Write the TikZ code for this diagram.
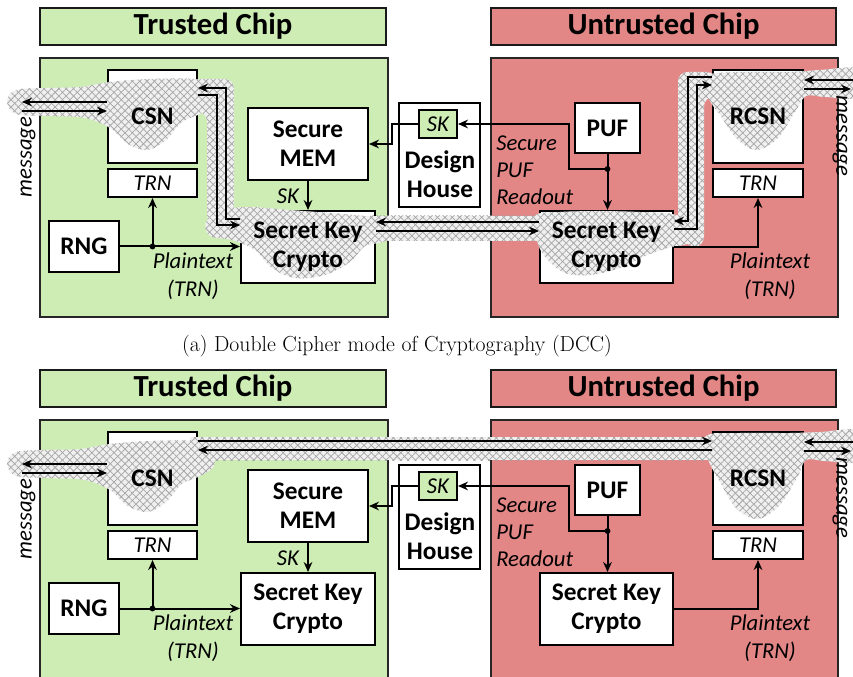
\documentclass[tikz,border=0pt]{standalone}
\usepackage{fontspec}
\newfontfamily\carl{Carlito}
\usetikzlibrary{arrows.meta,calc,patterns.meta}
\definecolor{trustfill}{RGB}{205,237,180}
\definecolor{untrustfill}{RGB}{226,134,134}
\definecolor{blobbg}{RGB}{240,240,240}
\definecolor{blobln}{RGB}{165,165,165}

\tikzset{
  panel/.style={draw=black!85, line width=1pt, inner sep=0pt, outer sep=0pt},
  ttl/.style={draw=black!90, line width=1.5pt, inner sep=0pt,
    font=\carl\bfseries\fontsize{23}{27}\selectfont},
  box/.style={draw, fill=white, line width=1.5pt, inner sep=0pt, align=center},
  sz/.style 2 args={minimum width=#1*0.75pt, minimum height=#2*0.75pt},
  bld/.style={font=\carl\bfseries\fontsize{19}{21.75}\selectfont, align=center, inner sep=0pt},
  itl/.style={font=\carl\itshape\fontsize{17}{21}\selectfont, align=center, inner sep=0pt},
  ln/.style={line width=1.5pt},
  arr/.style={line width=1.5pt, -{Stealth[length=7.5pt,width=6.5pt]}},
  blob/.style={fill=blobbg,
    postaction={pattern={Lines[angle=45,distance=3.9pt,line width=0.55pt]}, pattern color=blobln},
    postaction={pattern={Lines[angle=-45,distance=3.9pt,line width=0.55pt]}, pattern color=blobln}},
}

% chips, title bars and the boxes of one panel (prefix #1)
\newcommand\chipboxes[1]{%
  \node[panel, fill=trustfill, sz={348}{259}] (#1trust) at (214,187.5) {};
  \node[panel, fill=untrustfill, sz={347}{259}] (#1untrust) at (664.5,187.5) {};
  \node[ttl, fill=trustfill, sz={346}{37}] (#1trusthead) at (213,26.5) {Trusted Chip};
  \node[ttl, fill=untrustfill, sz={345}{37}] (#1untrusthead) at (663.5,26.5) {Untrusted Chip};
  \node[box, sz={89}{93}] (#1csn) at (152.5,116.5) {};
  \node[box, itl, sz={89}{28}] (#1trnL) at (152.5,183) {TRN};
  \node[box, bld, sz={70}{51}] (#1rng) at (84,246.5) {RNG};
  \node[box, bld, sz={120}{72}] (#1mem) at (308,144) {Secure\\MEM};
  \node[box, sz={134}{72}] (#1skcL) at (308,247) {};
  \node[box, sz={81}{104}] (#1dh) at (439.5,155) {};
  \node[box, itl, fill=trustfill, sz={38}{28}] (#1sk) at (438,124) {SK};
  \node[box, bld, sz={65}{50}] (#1puf) at (607.5,128) {PUF};
  \node[box, sz={133}{72}] (#1skcR) at (606.5,247) {};
  \node[box, sz={90}{93}] (#1rcsn) at (758,116.5) {};
  \node[box, itl, sz={90}{28}] (#1trnR) at (758,183) {TRN};
}

% connectors shared by both panels
\newcommand\chiplinks[1]{%
  \coordinate (#1msgLout) at (22,102);
  \coordinate (#1msgLin) at (22,111);
  \coordinate (#1msgRin) at (853,80);
  \coordinate (#1msgRout) at (851,89);
  \draw[arr] (#1csn.west |- #1msgLout) -- (#1msgLout);
  \draw[arr] (#1msgLin) -- (#1csn.west |- #1msgLin);
  \draw[arr] (#1msgRin) -- (#1rcsn.east |- #1msgRin);
  \draw[arr] (#1rcsn.east |- #1msgRout) -- (#1msgRout);
  \coordinate (#1jrng) at (#1rng.east -| #1trnL.south);
  \draw[arr] (#1rng.east) -- (#1rng.east -| #1skcL.west);
  \draw[arr] (#1jrng) -- (#1trnL.south);
  \fill (#1jrng) circle[radius=2.2pt];
  \draw[arr] (#1mem.south) -- (#1skcL.north);
  \draw[arr] (#1sk.west) -- ++(-26,0) |- (#1mem.east);
  \coordinate (#1jpuf) at ($(#1puf.south)+(0,15)$);
  \draw[ln] (#1puf.south) -- (#1jpuf);
  \draw[arr] (#1jpuf) -| ($(#1sk.east)+(111,0)$) -- (#1sk.east);
  \draw[arr] (#1jpuf) -- (#1jpuf |- #1skcR.north);
  \fill (#1jpuf) circle[radius=2.2pt];
  \draw[arr] (#1skcR.east) -| (#1trnR.south);
}

% labels drawn above the shaded channel
\newcommand\chiptext[1]{%
  \node[bld] (#1csnlabel) at (#1csn) {CSN};
  \node[bld] (#1rcsnlabel) at (#1rcsn) {RCSN};
  \node[bld] (#1skcLlabel) at (#1skcL) {Secret Key\\Crypto};
  \node[bld] (#1skcRlabel) at (#1skcR) {Secret Key\\Crypto};
  \node[bld] (#1dhlabel) at (440,174) {Design\\House};
  \node[itl, align=left, anchor=west, font=\carl\itshape\fontsize{17}{20.25}\selectfont]
    (#1readout) at (496,170) {Secure\\PUF\\Readout};
  \node[itl] (#1sklabel) at (288,196) {SK};
  \node[itl] (#1ptL) at (193,276) {Plaintext\\(TRN)};
  \node[itl] (#1ptR) at (770,276) {Plaintext\\(TRN)};
  \node[itl, rotate=90] (#1msgL) at (28,157) {message};
  \node[itl, rotate=-90] (#1msgR) at (840,136) {message};
}

% shaded channel around the left message port and CSN
\newcommand\csnblob{%
  \path[blob] plot[smooth cycle, tension=0.55] coordinates {(7,101) (16,90) (45,88) (80,87)
    (110,82) (150,79) (195,79) (212,86) (214,104) (200,114) (182,122) (166,140) (148,150)
    (128,144) (110,128) (85,118) (50,116) (16,114)};
}

\begin{document}
\begin{tikzpicture}[x=0.75pt, y=-0.75pt]
\path[use as bounding box, clip] (0,0) rectangle (853,677);

% ---------- (a) double cipher mode ----------
\chipboxes{t}
\csnblob
\path[blob, rounded corners=7pt] (192,79) -- (234,79) -- (234,214) -- (207,224) -- (207,112) -- (192,112) -- cycle;
\path[blob] plot[smooth cycle, tension=0.55] coordinates {(206,222) (222,210) (250,207) (290,210)
  (330,213) (365,216) (385,219) (386,240) (365,246) (350,262) (325,275) (295,278) (272,268)
  (255,250) (232,240) (210,236)};
\path[blob] (370,216) rectangle (545,241);
\path[blob] plot[smooth cycle, tension=0.55] coordinates {(535,216) (560,212) (600,211) (640,212)
  (672,214) (690,222) (690,242) (668,248) (645,256) (620,268) (590,275) (565,273) (548,260) (538,244)};
\path[blob, rounded corners=7pt] (678,235) -- (678,72) -- (716,72) -- (716,97) -- (704,97) -- (704,246) -- (690,248) -- cycle;
\path[blob] plot[smooth cycle, tension=0.55] coordinates {(706,76) (740,72) (790,72) (820,70)
  (860,69) (860,97) (825,97) (806,96) (795,112) (778,138) (757,150) (738,140) (722,118) (708,97)};

\chiplinks{t}
% CSN <-> Secret Key Crypto (trusted)
\draw[arr] ($(tskcL.north west)+(0,9)$) -| ($(tcsn.north east)+(28,19)$) -- ($(tcsn.north east)+(0,19)$);
\draw[arr] ($(tcsn.north east)+(0,26)$) -| ($(tskcL.north west)+(-23,15)$) -- ($(tskcL.north west)+(0,15)$);
% Secret Key Crypto <-> Secret Key Crypto
\draw[arr] ($(tskcR.north west)+(0,12)$) -- ($(tskcL.north east)+(0,12)$);
\draw[arr] ($(tskcL.north east)+(0,21)$) -- ($(tskcR.north west)+(0,21)$);
% Secret Key Crypto <-> RCSN (untrusted)
\draw[arr] ($(trcsn.north west)+(0,8)$) -| ($(tskcR.north east)+(14,11)$) -- ($(tskcR.north east)+(0,11)$);
\draw[arr] ($(tskcR.north east)+(0,19)$) -| ($(trcsn.north west)+(-15,16)$) -- ($(trcsn.north west)+(0,16)$);
\chiptext{t}

\node[inner sep=0pt, font=\fontsize{16.3}{19}\selectfont] (captionA) at (397,346)
  {(a) Double Cipher mode of Cryptography (DCC)};

% ---------- (b) direct channel between CSN and RCSN ----------
\begin{scope}[shift={(0,362)}]
\chipboxes{b}
\csnblob
\path[blob] (190,75) rectangle (730,98);
\path[blob] plot[smooth cycle, tension=0.55] coordinates {(706,74) (740,71) (790,71) (820,70)
  (860,69) (860,99) (825,99) (806,98) (797,116) (778,145) (757,157) (736,146) (720,120) (708,97)};
\chiplinks{b}
\draw[arr] ($(bcsn.north east)+(0,10)$) -- ($(brcsn.north west)+(0,10)$);
\draw[arr] ($(brcsn.north west)+(0,19)$) -- ($(bcsn.north east)+(0,19)$);
\chiptext{b}
\end{scope}
\end{tikzpicture}
\end{document}
